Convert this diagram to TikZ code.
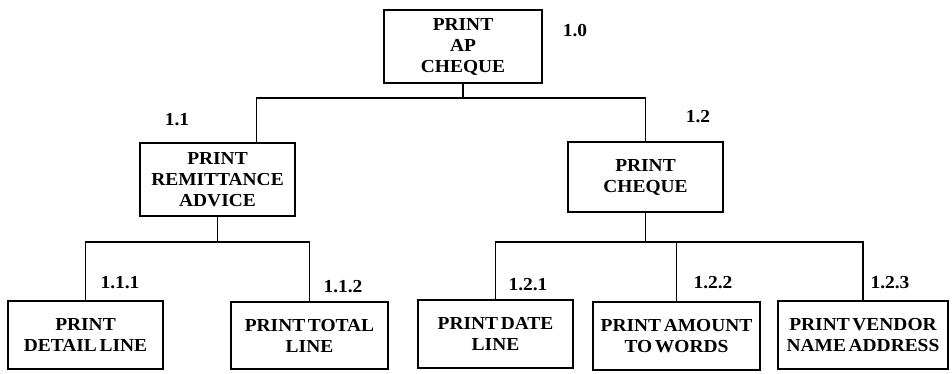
\documentclass[tikz,border=0pt]{standalone}
\usepackage{fontspec}
\setmainfont{Liberation Serif}[FakeStretch=1.06, WordSpace=0.55]
\usepackage{tikz}
\usetikzlibrary{positioning}

\begin{document}
\begin{tikzpicture}[
  x=0.6pt, y=-0.6pt,
  every node/.style={font=\bfseries\fontsize{11}{12.6}\selectfont},
  box/.style={draw, line width=1.3pt, align=center, inner sep=0pt},
  link/.style={line width=1.1pt},
  num/.style={inner sep=0pt}
]
\useasboundingbox (0,0) rectangle (952,374);
% modules
\node[box, minimum width=158*0.6pt, minimum height=73*0.6pt] (root) at (463,46.5) {PRINT\\AP\\CHEQUE};
\node[box, minimum width=155*0.6pt, minimum height=73*0.6pt] (remit) at (217.5,179.5) {PRINT\\REMITTANCE\\ADVICE};
\node[box, minimum width=155*0.6pt, minimum height=70*0.6pt] (cheque) at (645.5,177) {PRINT\\CHEQUE};
\node[box, minimum width=155*0.6pt, minimum height=68*0.6pt] (detail) at (85.5,335) {PRINT\\DETAIL LINE};
\node[box, minimum width=157*0.6pt, minimum height=67*0.6pt] (total) at (309.5,335.5) {PRINT TOTAL\\LINE};
\node[box, minimum width=155*0.6pt, minimum height=68*0.6pt] (date) at (495.5,334) {PRINT DATE\\LINE};
\node[box, minimum width=167*0.6pt, minimum height=68*0.6pt] (amount) at (676.5,336) {PRINT AMOUNT\\TO WORDS};
\node[box, minimum width=170*0.6pt, minimum height=68*0.6pt] (vendor) at (863,335) {PRINT VENDOR\\NAME ADDRESS};
% numbers
\node[num] (l10) at (575,31) {1.0};
\node[num] (l11) at (177,120) {1.1};
\node[num] (l12) at (698,117) {1.2};
\node[num] (l111) at (120,283) {1.1.1};
\node[num] (l112) at (343,287) {1.1.2};
\node[num] (l121) at (528,285) {1.2.1};
\node[num] (l122) at (713,283) {1.2.2};
\node[num] (l123) at (890,283) {1.2.3};
% connectors
\draw[link] (root.south) -- ++(0,14) coordinate (bus1);
\draw[link] ([xshift=23.4pt]remit.north) |- (bus1) -| (cheque.north);
\draw[link] (remit.south) -- ++(0,25) coordinate (bus2);
\draw[link] (detail.north) |- (bus2) -| (total.north);
\draw[link] (cheque.south) -- ++(0,29) coordinate (bus3);
\draw[link] (date.north) |- (bus3) -| (vendor.north);
\draw[link] (amount.north) -- (amount.north |- bus3);
\end{tikzpicture}
\end{document}
